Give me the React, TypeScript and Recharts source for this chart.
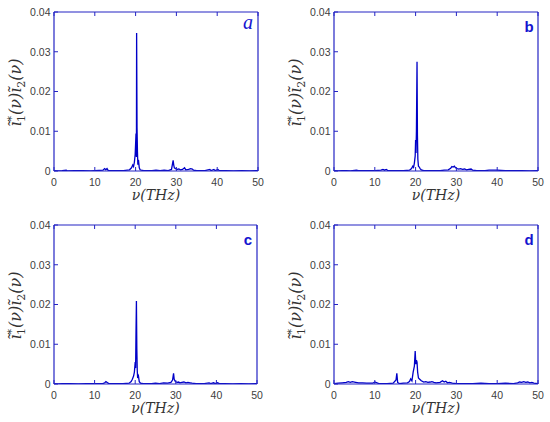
import React from "react";
import { LineChart, Line, XAxis, YAxis } from "recharts";

// ---------- data ----------
const xTicks = [0, 10, 20, 30, 40, 50];
const yTicks = [0, 0.01, 0.02, 0.03, 0.04];
const yTickLabels = ["0", "0.01", "0.02", "0.03", "0.04"];

const freqA = [0, 1, 2, 3, 3.2, 5, 7, 9, 10, 12, 12.4, 12.7, 13, 13.3, 15, 17, 18.5, 19, 19.3, 19.5, 19.7, 19.9, 20.0, 20.1, 20.2, 20.25, 20.35, 20.45, 20.55, 20.7, 20.9, 21.1, 21.4, 22, 24, 25, 26, 27, 28, 28.8, 29.2, 29.35, 29.5, 29.8, 30.2, 30.6, 31, 31.5, 32, 32.3, 33, 33.5, 33.9, 34.2, 35, 36, 37, 38.2, 38.5, 39.2, 39.5, 40.2, 40.5, 42, 44, 46, 48, 50];
const valsA = [0.0001, 0.00005, 0.0001, 0.0002, 0.00005, 0.0001, 0.0001, 0.00005, 0.0001, 0.0002, 0.0006, 0.0003, 0.0006, 0.0001, 0.0001, 0.0001, 0.0003, 0.0008, 0.0015, 0.0011, 0.0022, 0.0042, 0.0068, 0.0094, 0.0035, 0.0347, 0.0110, 0.0050, 0.0016, 0.0028, 0.0008, 0.0003, 0.0002, 0.0001, 0.0001, 0.0002, 0.0001, 0.0002, 0.0001, 0.0004, 0.0027, 0.0015, 0.0008, 0.0006, 0.0004, 0.0005, 0.0003, 0.0004, 0.0008, 0.0003, 0.0004, 0.0006, 0.0005, 0.0002, 0.0001, 0.0001, 0.0001, 0.0004, 0.0001, 0.0004, 0.0001, 0.0004, 0.0001, 0.0001, 0.00005, 0.0001, 0.00005, 0.0001];

const freqB = [0, 1, 2, 3, 4, 5.5, 6, 8, 10, 11.5, 12, 12.4, 12.8, 13.2, 15, 17, 18.5, 19, 19.3, 19.5, 19.7, 19.9, 20.0, 20.1, 20.2, 20.35, 20.45, 20.55, 20.7, 20.9, 21.1, 21.4, 22, 24, 26, 27, 28, 28.6, 28.9, 29.2, 29.5, 29.8, 30.2, 30.6, 31, 31.5, 32, 32.5, 33, 33.6, 34, 35, 37, 38, 40, 42, 44, 46, 48, 50];
const valsB = [0.0001, 0.00005, 0.0001, 0.0001, 0.00005, 0.0002, 0.0001, 0.0001, 0.0001, 0.0002, 0.0004, 0.0002, 0.0004, 0.0001, 0.0001, 0.0001, 0.0002, 0.0006, 0.0012, 0.0009, 0.0020, 0.0038, 0.0078, 0.0045, 0.0100, 0.0275, 0.0090, 0.0030, 0.0012, 0.0010, 0.0006, 0.0003, 0.0001, 0.0001, 0.0001, 0.0002, 0.0003, 0.0007, 0.0011, 0.0010, 0.0012, 0.0008, 0.0006, 0.0005, 0.0006, 0.0004, 0.0005, 0.0003, 0.0004, 0.0005, 0.0002, 0.0001, 0.0001, 0.0002, 0.0002, 0.0001, 0.0001, 0.0001, 0.00005, 0.0001];

const freqC = [0, 1, 2, 4, 6, 8, 10, 12, 12.5, 12.8, 13.1, 13.5, 15, 17, 18.5, 19, 19.3, 19.6, 19.8, 20.0, 20.1, 20.2, 20.3, 20.4, 20.5, 20.6, 20.8, 21.0, 21.3, 22, 24, 25, 26, 27, 28, 28.8, 29.2, 29.45, 29.6, 29.9, 30.3, 30.7, 31, 31.5, 32, 32.5, 33, 33.5, 34, 35, 37, 38.2, 38.6, 39.3, 39.7, 40.3, 40.7, 42, 44, 46, 48, 50];
const valsC = [0.0001, 0.00005, 0.0001, 0.0001, 0.00005, 0.0001, 0.0001, 0.0001, 0.0003, 0.0006, 0.0004, 0.0001, 0.0001, 0.0001, 0.0002, 0.0006, 0.0012, 0.0020, 0.0030, 0.0055, 0.0040, 0.0132, 0.0209, 0.0090, 0.0035, 0.0015, 0.0020, 0.0006, 0.0002, 0.0001, 0.0001, 0.0002, 0.0001, 0.0003, 0.0002, 0.0004, 0.0010, 0.0027, 0.0012, 0.0006, 0.0004, 0.0005, 0.0003, 0.0004, 0.0005, 0.0003, 0.0004, 0.0003, 0.0002, 0.0001, 0.0001, 0.0003, 0.0001, 0.0003, 0.0001, 0.0003, 0.0001, 0.0001, 0.00005, 0.0001, 0.00005, 0.0001];

const freqD = [0, 1, 2, 3, 3.5, 4, 4.5, 5, 6, 7, 8, 9.5, 10, 11, 13, 14.5, 15.2, 15.4, 15.6, 16, 17, 18, 18.5, 18.8, 19.1, 19.4, 19.7, 19.9, 20.05, 20.2, 20.35, 20.5, 20.7, 21, 21.4, 22, 22.5, 23, 23.6, 24, 24.5, 25, 26, 26.6, 27, 27.4, 27.8, 28.3, 29, 30, 32, 34, 36, 38, 40, 42, 44, 45, 45.5, 46, 46.5, 47, 47.5, 48, 48.5, 49, 50];
const valsD = [0.0001, 0.0002, 0.0003, 0.0004, 0.0006, 0.0004, 0.0006, 0.0005, 0.0003, 0.0003, 0.0002, 0.0002, 0.0005, 0.0001, 0.0001, 0.0002, 0.0010, 0.0027, 0.0004, 0.0001, 0.0002, 0.0003, 0.0006, 0.0013, 0.0008, 0.0030, 0.0045, 0.0083, 0.0050, 0.0060, 0.0055, 0.0030, 0.0015, 0.0012, 0.0008, 0.0005, 0.0006, 0.0004, 0.0005, 0.0006, 0.0004, 0.0003, 0.0004, 0.0008, 0.0005, 0.0007, 0.0003, 0.0004, 0.0002, 0.0001, 0.0001, 0.0001, 0.0002, 0.0001, 0.0001, 0.0002, 0.0001, 0.0003, 0.0005, 0.0004, 0.0006, 0.0004, 0.0005, 0.0003, 0.0004, 0.0002, 0.0001];

const panelLetters = ["a", "b", "c", "d"];
const xLabel = "ν(THz)";

// ---------- styles ----------
const AXIS = "#2424c4";
const LINE = "#0000c8";
const TICKTXT = "#404040";
const W = 275;
const H = 211;
const YW = 30;
const XH = 20;

function toRows(f: number[], v: number[]) {
  return f.map((x, i) => ({ x, y: v[i] }));
}

type Geo = { left: number; right: number; top: number; bottom: number };

const BottomTick = (p: any) => (
  <g>
    <line x1={p.x} x2={p.x} y1={p.y} y2={p.y - 4} stroke={AXIS} strokeWidth={1} />
    <text x={p.x} y={p.y + 14.5} textAnchor="middle" fontSize={10.5} fill={TICKTXT} fontFamily="Liberation Sans, Arial, sans-serif">
      {p.payload.value}
    </text>
  </g>
);
const TopTick = (p: any) => (
  <line x1={p.x} x2={p.x} y1={p.y} y2={p.y + 4} stroke={AXIS} strokeWidth={1} />
);
const LeftTick = (p: any) => {
  const idx = yTicks.indexOf(p.payload.value);
  return (
    <g>
      <line x1={p.x} x2={p.x + 4} y1={p.y} y2={p.y} stroke={AXIS} strokeWidth={1} />
      <text x={p.x - 3.5} y={p.y + 3.8} textAnchor="end" fontSize={10.5} fill={TICKTXT} fontFamily="Liberation Sans, Arial, sans-serif">
        {idx >= 0 ? yTickLabels[idx] : p.payload.value}
      </text>
    </g>
  );
};
const RightTick = (p: any) => (
  <line x1={p.x} x2={p.x - 4} y1={p.y} y2={p.y} stroke={AXIS} strokeWidth={1} />
);

function Panel({ rows, geo, letter, letterIdx, ox, oy }: { rows: any[]; geo: Geo; letter: string; letterIdx: number; ox: number; oy: number }) {
  const plotL = geo.left;
  const plotR = W - geo.right;
  const plotT = geo.top;
  const plotB = H - geo.bottom;
  const cx = (plotL + plotR) / 2;
  const cy = (plotT + plotB) / 2;
  const serif = "DejaVu Serif, Liberation Serif, serif";
  return (
    <div style={{ position: "absolute", left: ox, top: oy, width: W, height: H }}>
      <LineChart width={W} height={H} data={rows} margin={{ left: geo.left - YW, right: geo.right - 1, top: geo.top - 1, bottom: geo.bottom - XH }}>
        <XAxis dataKey="x" type="number" domain={[0, 50]} ticks={xTicks} interval={0} height={XH} tickSize={0} tickMargin={0} tickLine={false} axisLine={{ stroke: AXIS, strokeWidth: 1.2 }} tick={BottomTick} />
        <XAxis xAxisId="top" orientation="top" dataKey="x" type="number" domain={[0, 50]} ticks={xTicks} interval={0} height={1} tickSize={0} tickMargin={0} tickLine={false} axisLine={{ stroke: AXIS, strokeWidth: 1.2 }} tick={TopTick} />
        <YAxis type="number" domain={[0, 0.04]} ticks={yTicks} interval={0} width={YW} tickSize={0} tickMargin={0} tickLine={false} axisLine={{ stroke: AXIS, strokeWidth: 1.2 }} tick={LeftTick} allowDataOverflow />
        <YAxis yAxisId="right" orientation="right" type="number" domain={[0, 0.04]} ticks={yTicks} interval={0} width={1} tickSize={0} tickMargin={0} tickLine={false} axisLine={{ stroke: AXIS, strokeWidth: 1.2 }} tick={RightTick} />
        <Line dataKey="y" type="linear" stroke={LINE} strokeWidth={1.3} dot={false} isAnimationActive={false} />
      </LineChart>
      <svg width={W} height={H} style={{ position: "absolute", left: 0, top: 0, pointerEvents: "none" }}>
        <text x={cx} y={plotB + 29} textAnchor="middle" fontSize={14} fontStyle="italic" fontFamily={serif} fill="#333">
          {xLabel}
        </text>
        <text transform={`translate(${plotL - 33},${cy + 1}) rotate(-90)`} textAnchor="middle" fontSize={16} fontStyle="italic" fontFamily={serif} fill="#333">
          <tspan>ĩ</tspan>
          <tspan fontSize={11} dy={-6}>*</tspan>
          <tspan fontSize={11} fontStyle="normal" dx={-6} dy={10}>1</tspan>
          <tspan dy={-4}>(ν)ĩ</tspan>
          <tspan fontSize={11} fontStyle="normal" dy={4}>2</tspan>
          <tspan dy={-4}>(ν)</tspan>
        </text>
        {letterIdx === 0 ? (
          <text x={plotR - 10} y={plotT + 17} textAnchor="middle" fontSize={20} fontStyle="italic" fontFamily="Liberation Serif, serif" fill="#1414d0">
            {letter}
          </text>
        ) : (
          <text x={plotR - 9} y={plotT + 20} textAnchor="middle" fontSize={15} fontWeight="bold" fontFamily="Liberation Sans, Arial, sans-serif" fill="#1414d0">
            {letter}
          </text>
        )}
      </svg>
    </div>
  );
}

export default function App() {
  const geos: Geo[] = [
    { left: 54, right: 17, top: 12, bottom: 40 },
    { left: 59, right: 12, top: 12, bottom: 40 },
    { left: 54, right: 18, top: 14, bottom: 38 },
    { left: 59, right: 12, top: 14, bottom: 38 },
  ];
  const rowsList = [toRows(freqA, valsA), toRows(freqB, valsB), toRows(freqC, valsC), toRows(freqD, valsD)];
  const offs = [
    [0, 0],
    [275, 0],
    [0, 211],
    [275, 211],
  ];
  return (
    <div style={{ position: "absolute", left: 0, top: 0, width: 550, height: 422, background: "#fff" }}>
      {rowsList.map((rows, i) => (
        <Panel key={i} rows={rows} geo={geos[i]} letter={panelLetters[i]} letterIdx={i} ox={offs[i][0]} oy={offs[i][1]} />
      ))}
    </div>
  );
}
